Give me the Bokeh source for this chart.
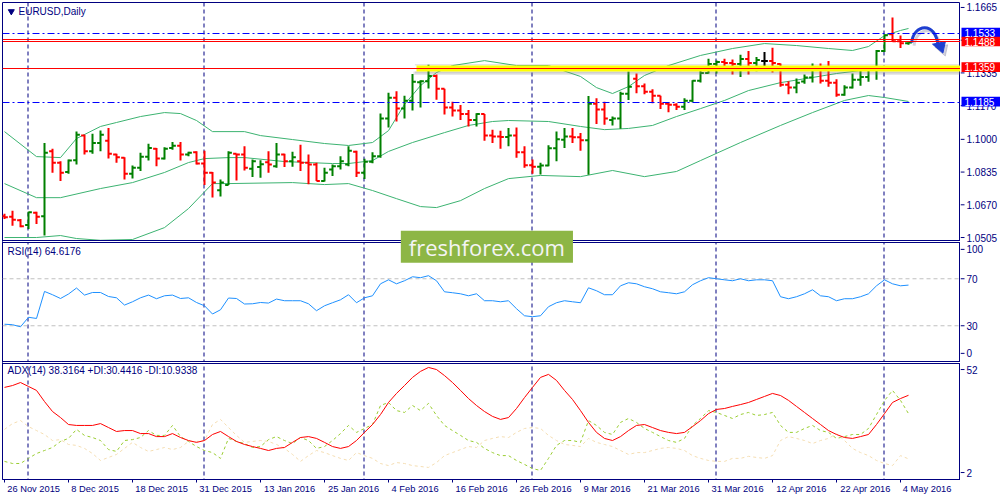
import math
from bokeh.plotting import figure
from bokeh.models import (Range1d, FixedTicker, Span, Label, ColumnDataSource)
from bokeh.layouts import row
from bokeh.embed import file_html
from bokeh.resources import INLINE
from bokeh.core.properties import value

# ---------------- DATA ----------------
bar_index = list(range(114))   # 26 Nov 2015 ... 5 May 2016, one bar per trading day

opens = [
    1.0612, 1.0610, 1.0592, 1.0568, 1.0630, 1.0612, 1.0940, 1.0882, 1.0835, 1.0895,
    1.1020, 1.0940, 1.0982, 1.0993, 1.0923, 1.0907, 1.0827, 1.0857, 1.0912, 1.0952,
    1.0903, 1.0957, 1.0968, 1.0923, 1.0935, 1.0878, 1.0832, 1.0743, 1.0770, 1.0927,
    1.0923, 1.0852, 1.0860, 1.0885, 1.0865, 1.0923, 1.0890, 1.0890, 1.0882, 1.0873,
    1.0790, 1.0848, 1.0865, 1.0873, 1.0937, 1.0832, 1.0887, 1.0915, 1.1105, 1.1210,
    1.1155, 1.1195, 1.1288, 1.1293, 1.1320, 1.1255, 1.1160, 1.1145, 1.1128, 1.1098,
    1.1128, 1.1020, 1.1015, 1.1012, 1.1020, 1.0935, 1.0870, 1.0862, 1.0868, 1.0955,
    1.0998, 1.1015, 1.1010, 1.0995, 1.1180, 1.1150, 1.1098, 1.1105, 1.1230, 1.1305,
    1.1268, 1.1240, 1.1220, 1.1180, 1.1175, 1.1165, 1.1195, 1.1295, 1.1335, 1.1380,
    1.1390, 1.1385, 1.1380, 1.1405, 1.1385, 1.1395, 1.1395, 1.1380, 1.1275, 1.1262,
    1.1292, 1.1312, 1.1355, 1.1295, 1.1285, 1.1225, 1.1262, 1.1300, 1.1315, 1.1352,
    1.1445, 1.1530, 1.1495, 1.1484]
highs = [
    1.0625, 1.0640, 1.0598, 1.0635, 1.0635, 1.0982, 1.0952, 1.0890, 1.0898, 1.1040,
    1.1023, 1.1028, 1.1045, 1.1057, 1.0928, 1.0910, 1.0868, 1.0932, 1.0978, 1.0957,
    1.0960, 1.0987, 1.0987, 1.0937, 1.0940, 1.0943, 1.0835, 1.0798, 1.0940, 1.0928,
    1.0965, 1.0898, 1.0895, 1.0940, 1.0982, 1.0927, 1.0937, 1.0973, 1.0923, 1.0882,
    1.0857, 1.0873, 1.0915, 1.0965, 1.0943, 1.0902, 1.0935, 1.1130, 1.1235, 1.1243,
    1.1220, 1.1330, 1.1298, 1.1376, 1.1327, 1.1255, 1.1190, 1.1173, 1.1148, 1.1132,
    1.1128, 1.1048, 1.1043, 1.1057, 1.1060, 1.0965, 1.0898, 1.0882, 1.0970, 1.1040,
    1.1057, 1.1057, 1.1032, 1.1218, 1.1207, 1.1190, 1.1115, 1.1240, 1.1342, 1.1332,
    1.1282, 1.1253, 1.1220, 1.1187, 1.1182, 1.1207, 1.1298, 1.1357, 1.1407, 1.1398,
    1.1407, 1.1403, 1.1427, 1.1445, 1.1415, 1.1440, 1.1462, 1.1382, 1.1293, 1.1307,
    1.1327, 1.1382, 1.1382, 1.1395, 1.1303, 1.1273, 1.1332, 1.1348, 1.1360, 1.1450,
    1.1530, 1.1615, 1.1523, 1.1490]
lows = [
    1.0598, 1.0565, 1.0557, 1.0548, 1.0573, 1.0515, 1.0832, 1.0790, 1.0827, 1.0873,
    1.0923, 1.0927, 1.0940, 1.0903, 1.0882, 1.0798, 1.0803, 1.0840, 1.0893, 1.0865,
    1.0898, 1.0948, 1.0893, 1.0915, 1.0873, 1.0770, 1.0707, 1.0712, 1.0770, 1.0793,
    1.0843, 1.0810, 1.0807, 1.0832, 1.0857, 1.0860, 1.0862, 1.0840, 1.0773, 1.0790,
    1.0787, 1.0815, 1.0848, 1.0865, 1.0810, 1.0800, 1.0880, 1.0907, 1.1060, 1.1090,
    1.1105, 1.1145, 1.1160, 1.1256, 1.1200, 1.1125, 1.1115, 1.1098, 1.1065, 1.1065,
    1.0993, 1.0982, 1.0953, 1.0965, 1.0907, 1.0857, 1.0827, 1.0823, 1.0865, 1.0890,
    1.0957, 1.0982, 1.0943, 1.0822, 1.1077, 1.1073, 1.1070, 1.1053, 1.1198, 1.1232,
    1.1227, 1.1182, 1.1153, 1.1137, 1.1148, 1.1148, 1.1187, 1.1287, 1.1332, 1.1332,
    1.1353, 1.1327, 1.1315, 1.1327, 1.1343, 1.1365, 1.1337, 1.1265, 1.1227, 1.1232,
    1.1280, 1.1287, 1.1282, 1.1265, 1.1215, 1.1220, 1.1257, 1.1270, 1.1290, 1.1300,
    1.1440, 1.1493, 1.1460, 1.1477]
closes = [
    1.0607, 1.0595, 1.0562, 1.0632, 1.0610, 1.0932, 1.0882, 1.0832, 1.0893, 1.1023,
    1.0940, 1.0982, 1.1023, 1.0928, 1.0910, 1.0827, 1.0857, 1.0912, 1.0957, 1.0903,
    1.0953, 1.0968, 1.0923, 1.0932, 1.0878, 1.0832, 1.0782, 1.0782, 1.0932, 1.0923,
    1.0857, 1.0890, 1.0875, 1.0873, 1.0923, 1.0890, 1.0910, 1.0882, 1.0873, 1.0790,
    1.0832, 1.0865, 1.0890, 1.0943, 1.0832, 1.0887, 1.0915, 1.1105, 1.1210, 1.1155,
    1.1195, 1.1290, 1.1293, 1.1320, 1.1255, 1.1160, 1.1145, 1.1128, 1.1098, 1.1128,
    1.1020, 1.1015, 1.1012, 1.1020, 1.0935, 1.0870, 1.0862, 1.0868, 1.0955, 1.1000,
    1.1015, 1.1010, 1.0995, 1.1180, 1.1150, 1.1105, 1.1105, 1.1230, 1.1265, 1.1268,
    1.1240, 1.1220, 1.1180, 1.1175, 1.1165, 1.1195, 1.1295, 1.1335, 1.1380, 1.1390,
    1.1385, 1.1380, 1.1405, 1.1385, 1.1400, 1.1395, 1.1385, 1.1275, 1.1262, 1.1285,
    1.1312, 1.1355, 1.1295, 1.1285, 1.1225, 1.1262, 1.1300, 1.1315, 1.1352, 1.1445,
    1.1525, 1.1495, 1.1484, 1.1488]

# Bollinger bands (20, 2)
bb_upper_index = [0, 4, 7, 9, 12, 14, 17, 20, 22, 24, 26, 30, 32, 36, 40, 43, 46, 48, 50, 52,
                  54, 56, 60, 64, 68, 72, 74, 76, 78, 80, 83, 87, 91, 95, 99, 103, 106, 108,
                  110, 112, 113]
bb_upper = [1.1039, 1.0913, 1.0908, 1.1004, 1.1065, 1.1085, 1.1115, 1.1135, 1.1130, 1.1095,
            1.1039, 1.1039, 1.1019, 1.0999, 1.0979, 1.0969, 1.0984, 1.1044, 1.1176, 1.1271,
            1.1337, 1.1372, 1.1397, 1.1372, 1.1372, 1.1317, 1.1261, 1.1231, 1.1266, 1.1322,
            1.1372, 1.1423, 1.1458, 1.1483, 1.1473, 1.1458, 1.1448, 1.1468, 1.1523, 1.1549,
            1.1559]
bb_mid_index = [0, 4, 7, 12, 16, 20, 23, 25, 28, 30, 35, 41, 43, 46, 48, 51, 55, 58, 61, 63,
                68, 72, 75, 78, 81, 84, 87, 90, 93, 97, 101, 104, 107, 110, 113]
bb_mid = [1.0777, 1.0706, 1.0706, 1.0752, 1.0782, 1.0833, 1.0883, 1.0903, 1.0908, 1.0908,
          1.0888, 1.0878, 1.0878, 1.0893, 1.0939, 1.0984, 1.1034, 1.1070, 1.1090, 1.1095,
          1.1090, 1.1065, 1.1049, 1.1055, 1.1070, 1.1115, 1.1155, 1.1196, 1.1246, 1.1286,
          1.1312, 1.1332, 1.1347, 1.1357, 1.1362]
bb_lower_index = [0, 4, 7, 9, 12, 16, 20, 23, 26, 28, 36, 40, 43, 46, 49, 52, 54, 57, 60, 63,
                  67, 72, 76, 80, 84, 87, 92, 97, 101, 105, 108, 110, 113]
bb_lower = [1.0505, 1.0505, 1.0515, 1.0500, 1.0491, 1.0495, 1.0555, 1.0651, 1.0777, 1.0777,
            1.0782, 1.0772, 1.0777, 1.0742, 1.0701, 1.0661, 1.0656, 1.0691, 1.0752, 1.0802,
            1.0818, 1.0812, 1.0843, 1.0812, 1.0838, 1.0893, 1.0984, 1.1070, 1.1135, 1.1196,
            1.1221, 1.1211, 1.1191]

rsi_values = [
    31.3, 30.9, 29.1, 37.2, 36.2, 59.2, 56.4, 53.2, 57.0, 62.1,
    56.1, 58.3, 58.3, 54.9, 53.8, 47.6, 50.4, 53.8, 56.1, 53.0,
    55.5, 56.1, 53.2, 53.8, 49.8, 47.0, 40.0, 43.6, 53.6, 53.2,
    48.5, 48.7, 49.8, 49.3, 52.7, 51.3, 51.3, 51.3, 48.7, 42.8,
    47.0, 49.6, 52.1, 56.4, 49.6, 53.8, 55.5, 65.7, 69.1, 65.7,
    68.3, 71.7, 70.9, 72.6, 68.3, 58.9, 58.1, 57.2, 55.5, 57.2,
    51.3, 51.3, 50.4, 51.3, 44.5, 38.5, 37.7, 38.5, 46.2, 49.6,
    51.3, 50.4, 49.6, 62.3, 59.8, 56.4, 56.4, 64.0, 66.6, 65.7,
    63.2, 61.5, 58.9, 58.1, 57.2, 58.9, 64.9, 68.3, 70.9, 70.0,
    69.1, 68.3, 70.0, 68.3, 69.1, 69.1, 68.3, 54.7, 53.0, 54.7,
    57.2, 60.6, 55.5, 54.7, 51.3, 53.0, 53.0, 54.7, 57.2, 64.0,
    69.1, 65.7, 64.0, 64.6]

adx_values = [
    41.7, 42.5, 43.8, 42.1, 40.4, 35.6, 31.3, 28.7, 25.7, 25.3,
    25.3, 25.3, 26.1, 24.4, 22.7, 23.1, 23.1, 21.8, 21.8, 20.5,
    20.5, 21.8, 20.1, 18.8, 18.0, 18.8, 21.4, 22.7, 20.5, 18.4,
    17.1, 16.2, 15.4, 14.5, 15.4, 15.8, 18.0, 20.1, 20.5, 19.7,
    18.0, 16.2, 15.4, 16.2, 18.8, 22.3, 25.7, 30.0, 35.2, 39.1,
    42.5, 46.0, 48.6, 50.3, 49.4, 46.8, 43.8, 40.4, 36.9, 33.9,
    31.3, 29.2, 27.9, 28.7, 32.6, 37.3, 41.7, 46.0, 47.3, 44.7,
    40.4, 36.5, 31.7, 26.6, 22.3, 19.7, 18.8, 20.5, 23.1, 25.3,
    25.7, 24.4, 23.1, 22.3, 21.8, 22.3, 24.8, 27.4, 30.4, 32.2,
    32.6, 33.5, 34.3, 35.2, 36.5, 37.8, 39.1, 38.2, 36.1, 33.5,
    30.9, 28.3, 25.7, 23.1, 21.4, 20.1, 19.7, 20.5, 21.4, 25.7,
    30.4, 35.2, 36.9, 38.3]
plus_di = [
    9.8, 8.9, 8.9, 11.1, 13.2, 14.5, 15.8, 18.4, 19.7, 23.6,
    21.0, 20.1, 18.8, 14.9, 14.1, 18.8, 19.2, 20.1, 23.1, 21.0,
    21.0, 25.3, 20.5, 18.4, 16.2, 14.5, 13.6, 11.1, 19.7, 18.4,
    17.5, 15.8, 16.2, 19.2, 20.5, 18.8, 17.5, 20.1, 18.8, 15.4,
    16.2, 18.8, 21.8, 25.3, 22.3, 24.0, 25.7, 33.9, 35.2, 31.7,
    30.9, 33.9, 31.7, 34.8, 29.6, 25.3, 23.1, 21.0, 18.8, 18.0,
    15.4, 13.6, 12.3, 12.3, 10.2, 8.5, 6.7, 5.9, 11.1, 16.7,
    18.8, 18.8, 18.0, 27.4, 25.3, 22.3, 21.4, 26.6, 28.3, 26.6,
    24.0, 22.3, 20.5, 18.8, 18.0, 19.7, 25.3, 28.3, 31.7, 30.9,
    29.6, 28.3, 30.0, 30.9, 29.6, 30.0, 30.9, 25.3, 22.3, 22.3,
    24.0, 25.3, 23.1, 22.3, 19.7, 20.5, 21.4, 21.4, 24.0, 30.0,
    36.0, 40.4, 36.1, 30.4]
minus_di = [
    23.6, 26.1, 27.4, 24.8, 23.1, 21.4, 18.8, 19.2, 17.1, 16.7,
    15.4, 13.2, 10.2, 11.5, 12.8, 15.4, 18.0, 15.8, 14.1, 14.9,
    15.8, 14.9, 15.8, 18.4, 18.4, 18.8, 25.7, 27.9, 24.4, 21.0,
    18.0, 18.4, 18.8, 18.4, 17.1, 15.4, 12.8, 9.8, 12.3, 14.5,
    13.6, 12.3, 11.1, 10.2, 13.6, 12.3, 11.1, 8.9, 8.0, 9.3,
    8.9, 8.0, 7.6, 7.2, 9.3, 12.3, 13.6, 14.9, 16.2, 15.8,
    18.8, 19.7, 20.5, 20.1, 22.3, 24.0, 24.4, 24.0, 21.0, 18.8,
    17.1, 16.7, 16.2, 19.7, 18.0, 17.1, 16.2, 14.5, 12.8, 13.6,
    13.6, 14.5, 15.4, 15.8, 15.4, 14.5, 12.3, 11.1, 10.2, 9.8,
    9.8, 11.1, 11.1, 12.0, 11.5, 11.1, 12.3, 18.8, 20.5, 19.7,
    18.8, 17.5, 18.8, 19.7, 21.8, 18.8, 15.4, 13.6, 12.3, 10.2,
    8.9, 8.0, 12.3, 10.9]

date_tick_index = [0, 8, 16, 24, 32, 40, 48, 56, 64, 72, 80, 88, 96, 104, 112]
date_tick_labels = ["26 Nov 2015", "8 Dec 2015", "18 Dec 2015", "31 Dec 2015", "13 Jan 2016",
                    "25 Jan 2016", "4 Feb 2016", "16 Feb 2016", "26 Feb 2016", "9 Mar 2016",
                    "21 Mar 2016", "31 Mar 2016", "12 Apr 2016", "22 Apr 2016", "4 May 2016"]
month_start_index = [3, 25, 45, 66, 89, 110]
price_axis_ticks = [1.0505, 1.0670, 1.0835, 1.1000, 1.1170, 1.1335, 1.1500, 1.1665]
rsi_axis_labels = ["0", "30", "70", "100"]
adx_axis_labels = ["2", "52"]

blue_levels = [1.1533, 1.1185]
red_levels = [1.1503, 1.1493, 1.1359]
highlight_level = 1.1359
highlight_from_bar = 52
price_tags = ["1.1533", "1.1488", "1.1359", "1.1185"]
price_tag_colors = ["#0000FF", "#FF0000", "#FF0000", "#0000FF"]

header = "EURUSD,Daily"
rsi_header = "RSI(14) 64.6176"
adx_header = "ADX(14) 38.3164 +DI:30.4416 -DI:10.9338"
watermark = "freshforex.com"

# ---------------- STYLE / LAYOUT ----------------
NAVY = "#000080"
FONT = "Liberation Sans"
MAIN_W, SIDE_W, H = 960, 40, 500
TOP, BOTTOM, LEFT = 2, 21, 2
FRAME_W = MAIN_W - LEFT                      # 958 px
FRAME_H = H - TOP - BOTTOM                   # 477 screen rows (row 0 = frame bottom)
X0, X1 = -0.25, 119.5
PX_PER_BAR = FRAME_W / (X1 - X0)             # 8 px per bar
xr = Range1d(X0, X1)
rows = Range1d(0, FRAME_H)


def panel_range(v_lo, v_hi, r_lo, r_hi):
    k = (v_hi - v_lo) / (r_hi - r_lo)
    return Range1d(v_lo - r_lo * k, v_lo + (FRAME_H - r_lo) * k)


P_LO, P_HI, P_R0, P_R1 = 1.0490, 1.1690, 239, 477
ranges = {"price": panel_range(P_LO, P_HI, P_R0, P_R1),
          "rsi": panel_range(0, 100, 118.5, 236),
          "adx": panel_range(2, 52, 0, 116)}
PX_PRICE = (P_HI - P_LO) / (P_R1 - P_R0)     # price units per pixel


def crisp_price(v):
    """nudge a horizontal line onto a pixel centre so it renders sharp"""
    r = round(P_R0 + (v - P_LO) / PX_PRICE)
    return P_LO + (r - P_R0) * PX_PRICE


def crisp_bar(i):
    return i - 0.0625


p = figure(width=MAIN_W, height=H, x_range=xr, y_range=rows, extra_y_ranges=ranges,
           output_backend="svg", toolbar_location=None, y_axis_location=None,
           x_axis_location="below", min_border_left=LEFT, min_border_right=0,
           min_border_top=TOP, min_border_bottom=BOTTOM)
p.xgrid.visible = False
p.ygrid.visible = False
p.outline_line_color = NAVY
p.background_fill_color = "white"
p.border_fill_color = "white"

for i in month_start_index:
    p.add_layout(Span(location=crisp_bar(i), dimension="height", line_color=NAVY,
                      line_dash="4 3", line_width=1, level="underlay"))

# ---- price panel ----
bb_color = "#3CB371"
for xs, ys in [(bb_upper_index, bb_upper), (bb_mid_index, bb_mid), (bb_lower_index, bb_lower)]:
    p.line(xs, ys, line_color=bb_color, line_width=1, y_range_name="price")

colors = ["#008000" if c > o else ("#FF0000" if c < o else "#000000")
          for o, c in zip(opens, closes)]
src = ColumnDataSource(dict(
    x=bar_index, o=opens, h=highs, l=lows, c=closes, color=colors,
    xl=[i - 0.42 for i in bar_index], xr=[i + 0.42 for i in bar_index]))
for a in [("x", "l", "x", "h"), ("xl", "o", "x", "o"), ("x", "c", "xr", "c")]:
    p.segment(*a, source=src, line_color="color", line_width=2, y_range_name="price")

hx0 = highlight_from_bar - 0.5
hl = crisp_price(highlight_level)
for l_off, b, t, col, al in [(-0.4, -6.5, -3, "#808080", 0.18), (-0.2, -5, -3, "#808080", 0.25),
                             (-0.2, 3, 4.5, "#808080", 0.2), (0, -3, 3, "#FFFF00", 1.0)]:
    p.quad(left=hx0 + l_off, right=X1, bottom=hl + b * PX_PRICE,
           top=hl + t * PX_PRICE, fill_color=col, fill_alpha=al,
           line_color=None, y_range_name="price")

for lv in blue_levels:
    p.add_layout(Span(location=crisp_price(lv), dimension="width", line_color="#0000FF",
                      line_dash="7 3 2 3", line_width=1, y_range_name="price"))
for lv in red_levels:
    p.add_layout(Span(location=crisp_price(lv), dimension="width", line_color="#FF0000",
                      line_width=1, y_range_name="price"))

# hand-drawn forecast arrow (annotation)
for dx, dy, col, alpha in [(0.3, -3 * PX_PRICE, "#7F7F9F", 0.35), (0, 0, "#1F3FD0", 1.0)]:
    p.bezier(x0=[113.4 + dx], y0=[1.1488 + dy], x1=[116.7 + dx], y1=[1.1472 + dy],
             cx0=[113.6 + dx], cx1=[116.4 + dx], cy0=[1.1580 + dy], cy1=[1.1600 + dy],
             line_color=col, line_alpha=alpha, line_width=3, y_range_name="price")
    p.patch([116.0 + dx, 117.6 + dx, 117.3 + dx], [1.1480 + dy, 1.1492 + dy, 1.1435 + dy],
            fill_color=col, fill_alpha=alpha, line_color=col, line_alpha=alpha,
            y_range_name="price")

p.scatter(x=[0.85], y=[1.1645], marker="inverted_triangle", size=6, color=NAVY,
          y_range_name="price")
p.add_layout(Label(x=1.75, y=1.1645, text=header, text_color=NAVY, text_font=FONT,
                   text_font_size="10px", text_baseline="middle", y_range_name="price"))

# ---- RSI panel ----
for lv in [30, 70]:
    p.add_layout(Span(location=lv, dimension="width", line_color="#C0C0C0",
                      line_dash="4 3", line_width=1, level="underlay", y_range_name="rsi"))
p.line(bar_index, rsi_values, line_color="#1E90FF", line_width=1, y_range_name="rsi")
p.add_layout(Label(x=0.375, y=93.2, text=rsi_header, text_color=NAVY, text_font=FONT,
                   text_font_size="10px", text_baseline="middle", y_range_name="rsi"))

# ---- ADX panel ----
p.line(bar_index, plus_di, line_color="#9ACD32", line_width=1, line_dash="3 3",
       y_range_name="adx")
p.line(bar_index, minus_di, line_color="#F5DEB3", line_width=1, line_dash="3 3",
       y_range_name="adx")
p.line(bar_index, adx_values, line_color="#FF0000", line_width=1, y_range_name="adx")
p.add_layout(Label(x=0.375, y=49.0, text=adx_header, text_color=NAVY, text_font=FONT,
                   text_font_size="10px", text_baseline="middle", y_range_name="adx"))

# ---- panel separators (double navy rules with a white gap) ----
for lo, hi in [(237.5, 238.5), (116.5, 117.5)]:
    p.quad(left=X0, right=X1, bottom=lo, top=hi, fill_color="white", line_color=None)
for loc in [239, 237, 118, 116]:
    p.add_layout(Span(location=loc, dimension="width", line_color=NAVY, line_width=1))

p.add_layout(Label(x=60.3, y=97.2, text=watermark, text_color="#F4F4F4",
                   text_font="Open Sans", text_font_size="22px", text_align="center",
                   text_baseline="middle", background_fill_color="#8DB645",
                   padding=dict(left=8, right=8, top=1, bottom=1), y_range_name="rsi"))

# ---- date axis ----
XFS = 9.3
label_pos = [round(crisp_bar(t) + (2 + 0.27 * XFS * len(s)) / PX_PER_BAR, 3)
             for t, s in zip(date_tick_index, date_tick_labels)]
xa = p.xaxis[0]
xa.ticker = FixedTicker(ticks=label_pos, minor_ticks=[crisp_bar(t) for t in date_tick_index])
xa.major_label_overrides = {pos: s for pos, s in zip(label_pos, date_tick_labels)}
xa.axis_line_color = NAVY
xa.major_tick_line_color = None
xa.major_tick_out = 3
xa.minor_tick_line_color = NAVY
xa.minor_tick_out = 3
xa.minor_tick_in = 0
xa.major_label_text_color = NAVY
xa.major_label_text_font = FONT
xa.major_label_text_font_size = f"{XFS}px"
xa.major_label_standoff = 1

# ---------------- RIGHT SCALE STRIP ----------------
s = figure(width=SIDE_W, height=H, x_range=Range1d(0, SIDE_W), y_range=rows,
           extra_y_ranges=ranges, output_backend="svg", toolbar_location=None,
           x_axis_location=None, y_axis_location=None, min_border_left=0,
           min_border_right=0, min_border_top=TOP, min_border_bottom=BOTTOM)
s.xgrid.visible = False
s.ygrid.visible = False
s.outline_line_color = None
s.background_fill_color = "white"
s.border_fill_color = "white"

scales = [("price", price_axis_ticks, [f"{v:.4f}" for v in price_axis_ticks]),
          ("rsi", [6.5, 30, 70, 95], rsi_axis_labels),
          ("adx", [5, 49.4], adx_axis_labels)]
for name, ticks, labels in scales:
    s.segment(x0=[0] * len(ticks), x1=[4] * len(ticks), y0=ticks, y1=ticks,
              line_color=NAVY, line_width=1, y_range_name=name)
    s.text(x=[6] * len(ticks), y=ticks, text=labels, text_color=NAVY,
           text_font=value(FONT), text_font_size=value("10px"), text_baseline="middle",
           text_align="left", y_range_name=name)

tag_vals = [float(t) for t in price_tags]
half = 4.8 * PX_PRICE
s.quad(left=[1] * 4, right=[SIDE_W] * 4, bottom=[v - half + PX_PRICE for v in tag_vals],
       top=[v + half + PX_PRICE for v in tag_vals], fill_color=price_tag_colors,
       line_color=None, y_range_name="price")
s.text(x=[4] * 4, y=[v + PX_PRICE for v in tag_vals], text=price_tags, text_color="white",
       text_font=value(FONT), text_font_size=value("10px"), text_baseline="middle",
       text_align="left", y_range_name="price")

layout = row(p, s)
open("out.html", "w").write(file_html(layout, INLINE, "EURUSD Daily"))
